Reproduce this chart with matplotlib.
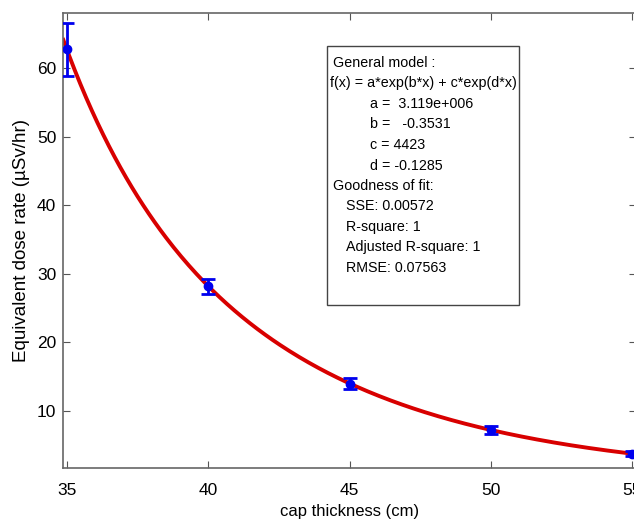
import numpy as np
import matplotlib.pyplot as plt
from matplotlib.patches import Rectangle

plt.rcParams['font.family'] = ['Liberation Sans', 'DejaVu Sans']

# measured points (cap thickness in cm, dose rate in uSv/hr)
thickness = [35, 40, 45, 50, 55]
dose_rate = [62.7, 28.2, 14.0, 7.2, 3.8]
dose_err = [3.8, 1.1, 0.8, 0.6, 0.3]

# fitted two-term exponential model
a, b, c, d = 3.119e6, -0.3531, 4423, -0.1285

fit_lines = [
    ('General model :', 0),
    ('f(x) = a*exp(b*x) + c*exp(d*x)', -3),
    ('a =  3.119e+006', 37),
    ('b =   -0.3531', 37),
    ('c = 4423', 37),
    ('d = -0.1285', 37),
    ('Goodness of fit:', 0),
    ('SSE: 0.00572', 13),
    ('R-square: 1', 13),
    ('Adjusted R-square: 1', 13),
    ('RMSE: 0.07563', 13),
]

fig = plt.figure(figsize=(6.34, 5.24), dpi=100)
ax = fig.add_axes([0.0998, 0.107, 0.903, 0.868])

xlim = (34.87, 55.13)
xs = np.linspace(xlim[0], 55, 300)
ax.plot(xs, a * np.exp(b * xs) + c * np.exp(d * xs), color='#d80000', lw=2.8, zorder=2)
ax.errorbar(thickness, dose_rate, yerr=dose_err, fmt='o', color='#0000ee',
            ms=6, elinewidth=2, capsize=5, capthick=2, zorder=3)

ax.set_xlim(*xlim)
ax.set_ylim(1.7, 68)
ax.set_xticks([35, 40, 45, 50, 55])
ax.set_yticks([10, 20, 30, 40, 50, 60])
ax.tick_params(direction='in', top=True, right=True, labelsize=12.5,
               color='#555555', length=5)
ax.tick_params(axis='x', pad=11)
ax.tick_params(axis='y', pad=5)
for s in ax.spines.values():
    s.set_color('#666666')
    s.set_linewidth(1.2)
ax.set_xlabel('cap thickness (cm)', fontsize=12, labelpad=4)
ax.set_ylabel('Equivalent dose rate (\u00b5Sv/hr)', fontsize=13.5, labelpad=5)

# box with the fit results, in figure pixels
box = Rectangle((327, 524 - 305), 192, 259, transform=None, fill=True,
                facecolor='white', edgecolor='#444444', lw=1.0, zorder=5)
fig.patches.append(box)
box.set_figure(fig)
for i, (txt, dx) in enumerate(fit_lines):
    fig.text((333 + dx) / 634, 1 - (63 + i * 20.5) / 524, txt, fontsize=10.3,
             va='center', ha='left', zorder=6)

fig.savefig('out.png', dpi=100)
